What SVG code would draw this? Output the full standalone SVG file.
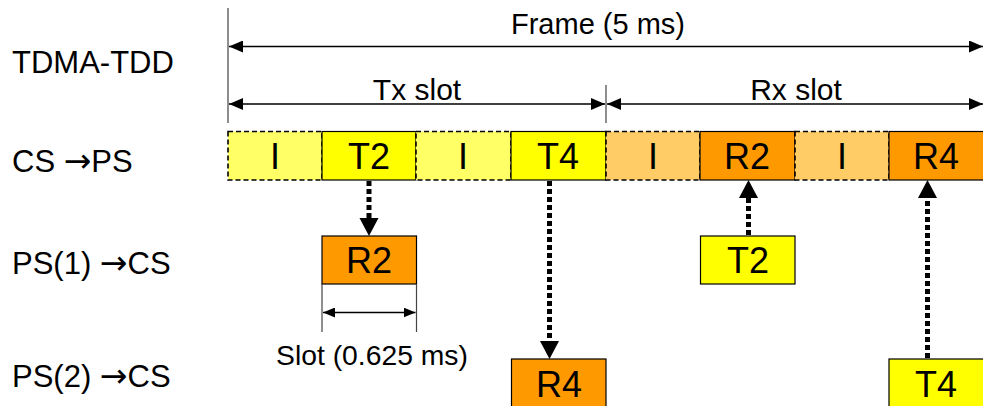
<svg xmlns="http://www.w3.org/2000/svg" width="983" height="406" viewBox="0 0 983 406">
  <defs>
    <marker id="ah" viewBox="0 0 14 12" refX="14" refY="6" markerWidth="14" markerHeight="12" markerUnits="userSpaceOnUse" orient="auto-start-reverse">
      <path d="M0,0 L14,6 L0,12 z" fill="#000"/>
    </marker>
    <marker id="ahs" viewBox="0 0 12 10" refX="12" refY="5" markerWidth="12" markerHeight="10" markerUnits="userSpaceOnUse" orient="auto-start-reverse">
      <path d="M0,0 L12,5 L0,10 z" fill="#000"/>
    </marker>
  </defs>
  <style>
    text { font-family: "Liberation Sans", Arial, sans-serif; fill: #000; }
    .lbl { font-size: 31px; }
    .arr { font-family: "DejaVu Sans", sans-serif; font-size: 33px; }
    .dim { font-size: 29px; text-anchor: middle; }
    .slot { font-size: 28.3px; text-anchor: middle; }
    .box { font-size: 36px; text-anchor: middle; }
    .idle-tx { fill: #FFFF66; stroke: #000; stroke-width: 1.6; stroke-dasharray: 5 3; }
    .idle-rx { fill: #FFCC66; stroke: #000; stroke-width: 1.6; stroke-dasharray: 5 3; }
    .tx { fill: #FFFF00; stroke: #000; stroke-width: 1.2; }
    .rx { fill: #FF9900; stroke: #000; stroke-width: 1.2; }
    .ext { stroke: #444; stroke-width: 1.2; fill: none; }
    .dimline { stroke: #000; stroke-width: 1.5; fill: none; }
    .dot { stroke: #000; stroke-width: 5; stroke-dasharray: 5 3; fill: none; }
    .head { fill: #000; }
  </style>

  <!-- row labels -->
  <g id="row-labels">
    <text class="lbl" x="12" y="73">TDMA-TDD</text>
    <text class="lbl" x="12" y="172">CS <tspan class="arr">→</tspan>PS</text>
    <text class="lbl" x="12" y="274">PS(1) <tspan class="arr">→</tspan>CS</text>
    <text class="lbl" x="12" y="387">PS(2) <tspan class="arr">→</tspan>CS</text>
  </g>

  <!-- frame / slot dimensions -->
  <g id="frame-dimension">
    <line class="ext" x1="228" y1="8" x2="228" y2="123"/>
    <line class="dimline" x1="229" y1="46.5" x2="983" y2="46.5" marker-start="url(#ah)" marker-end="url(#ah)"/>
    <text class="dim" x="598" y="34">Frame (5 ms)</text>
  </g>
  <g id="tx-dimension">
    <line class="ext" x1="606" y1="85" x2="606" y2="123"/>
    <line class="dimline" x1="229" y1="104" x2="605" y2="104" marker-start="url(#ah)" marker-end="url(#ah)"/>
    <text class="dim" x="417" y="100" style="font-size:30px">Tx slot</text>
  </g>
  <g id="rx-dimension">
    <line class="dimline" x1="607" y1="104" x2="983" y2="104" marker-start="url(#ah)" marker-end="url(#ah)"/>
    <text class="dim" x="796" y="100" style="font-size:30px">Rx slot</text>
  </g>

  <!-- CS -> PS slot row -->
  <g id="cs-i1"><rect class="idle-tx" x="228" y="131.5" width="94" height="48.5"/><text class="box" x="275" y="169">I</text></g>
  <g id="cs-t2"><rect class="tx" x="322" y="131.5" width="94" height="48.5"/><text class="box" x="369" y="169">T2</text></g>
  <g id="cs-i2"><rect class="idle-tx" x="416" y="131.5" width="95" height="48.5"/><text class="box" x="463" y="169">I</text></g>
  <g id="cs-t4"><rect class="tx" x="511" y="131.5" width="95" height="48.5"/><text class="box" x="558" y="169">T4</text></g>
  <g id="cs-i3"><rect class="idle-rx" x="606" y="131.5" width="94" height="48.5"/><text class="box" x="653" y="169">I</text></g>
  <g id="cs-r2"><rect class="rx" x="700" y="131.5" width="95" height="48.5"/><text class="box" x="747" y="169">R2</text></g>
  <g id="cs-i4"><rect class="idle-rx" x="795" y="131.5" width="94" height="48.5"/><text class="box" x="842" y="169">I</text></g>
  <g id="cs-r4"><rect class="rx" x="889" y="131.5" width="96" height="48.5"/><text class="box" x="936" y="169">R4</text></g>

  <!-- PS(1) row -->
  <g id="ps1-r2"><rect class="rx" x="322" y="236" width="94.5" height="48"/><text class="box" x="369" y="273">R2</text></g>
  <g id="ps1-t2"><rect class="tx" x="700.5" y="236" width="94.5" height="48"/><text class="box" x="748" y="273">T2</text></g>

  <!-- PS(2) row -->
  <g id="ps2-r4"><rect class="rx" x="511.5" y="359" width="94.5" height="60"/><text class="box" x="559" y="397">R4</text></g>
  <g id="ps2-t4"><rect class="tx" x="889" y="359" width="96" height="60"/><text class="box" x="936" y="397">T4</text></g>

  <!-- slot width dimension -->
  <g id="slot-dimension">
    <line class="ext" x1="322" y1="284" x2="322" y2="332"/>
    <line class="ext" x1="416.5" y1="284" x2="416.5" y2="332"/>
    <line class="dimline" x1="323" y1="312.5" x2="415.5" y2="312.5" stroke="#333" marker-start="url(#ahs)" marker-end="url(#ahs)"/>
    <text class="slot" x="372" y="365">Slot (0.625 ms)</text>
  </g>

  <!-- connectors: dotted shafts with solid heads -->
  <g id="connectors">
    <line class="dot" x1="369" y1="181" x2="369" y2="219"/>
    <path class="head" d="M359.5,218 L378.5,218 L369,236 z"/>
    <line class="dot" x1="549.5" y1="181" x2="549.5" y2="342"/>
    <path class="head" d="M540,341 L559,341 L549.5,359 z"/>
    <line class="dot" x1="748.5" y1="235" x2="748.5" y2="197"/>
    <path class="head" d="M739,198 L758,198 L748.5,180 z"/>
    <line class="dot" x1="927.5" y1="358" x2="927.5" y2="197"/>
    <path class="head" d="M918,198 L937,198 L927.5,180 z"/>
  </g>
</svg>
